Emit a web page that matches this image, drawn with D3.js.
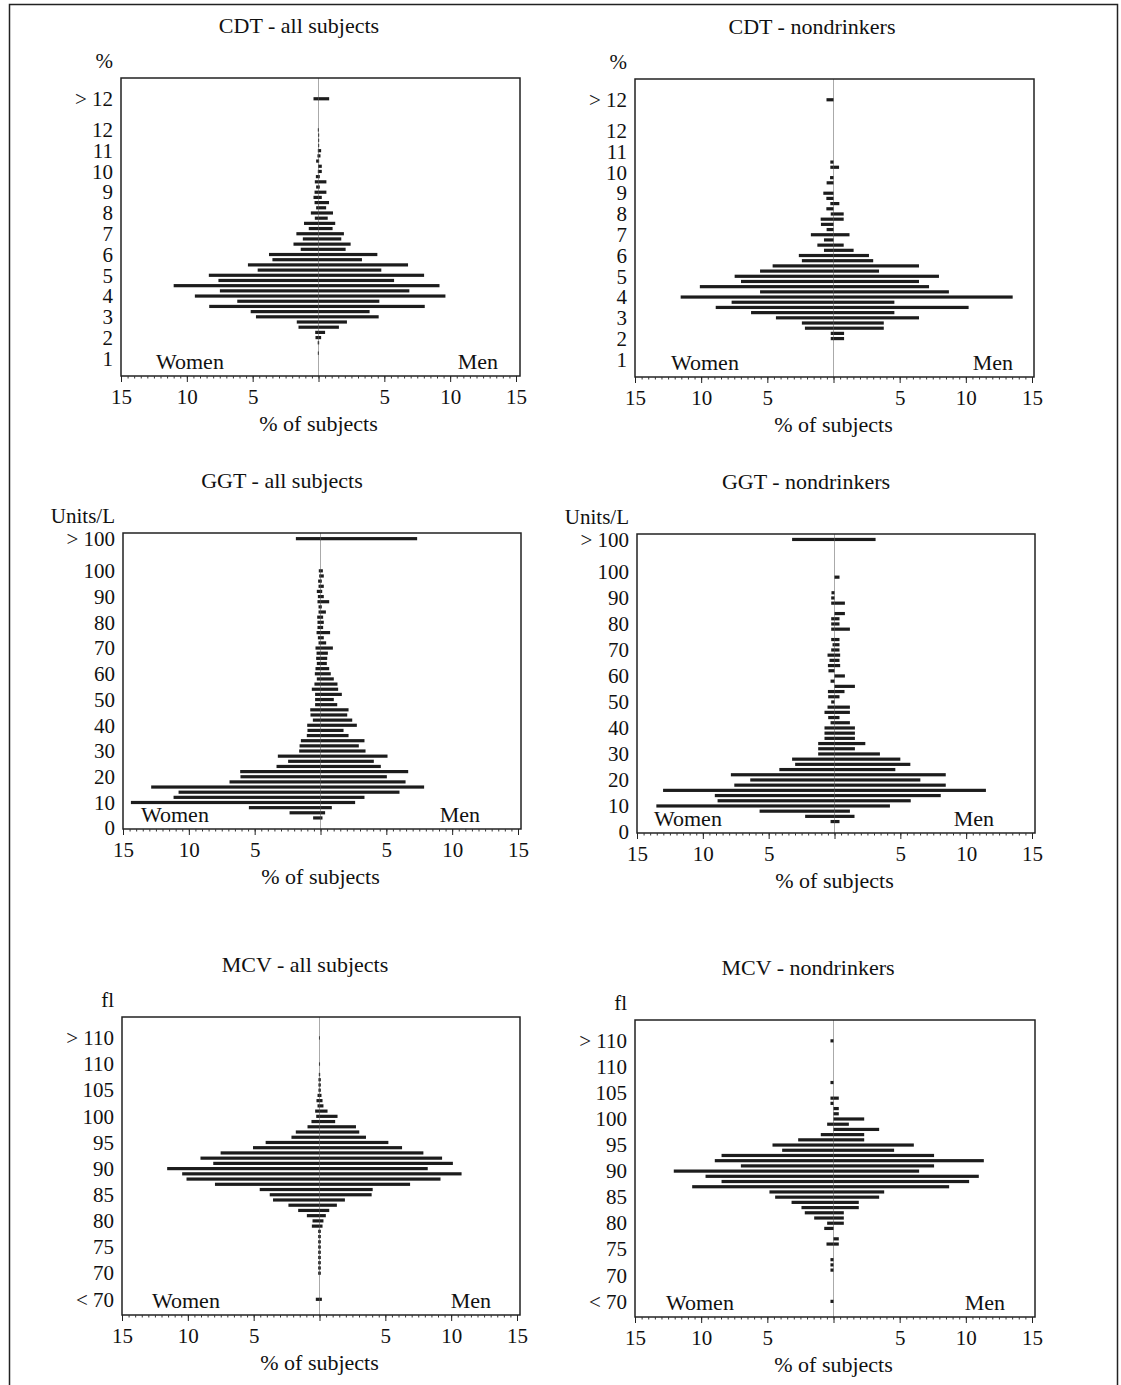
<!DOCTYPE html>
<html>
<head>
<meta charset="utf-8">
<script src="https://cdn.jsdelivr.net/npm/d3@7"></script>
<style>
  body { margin: 0; background: #fff; }
  svg text { font-family: "Liberation Serif", "Times New Roman", serif; fill: #111; }
</style>
</head>
<body>
<svg id="chart" width="1121" height="1385"></svg>
<script>
// ---- values (% of subjects per bin) ----

// CDT, %, bins of 0.25
const cdtLevels = [1.25, 1.5, 1.75, 2, 2.25, 2.5, 2.75, 3, 3.25, 3.5, 3.75, 4, 4.25, 4.5, 4.75, 5,
  5.25, 5.5, 5.75, 6, 6.25, 6.5, 6.75, 7, 7.25, 7.5, 7.75, 8, 8.25, 8.5, 8.75, 9, 9.25, 9.5, 9.75, 10,
  10.25, 10.5, 10.75, 11, 11.25, 11.5, 11.75, 12];
const cdtTicks = [1, 2, 3, 4, 5, 6, 7, 8, 9, 10, 11, 12];

const cdtAllWomen = [0.05, 0, 0.06, 0.23, 0.25, 1.52, 1.65, 4.75, 5.15, 8.3, 6.17, 9.39, 7.49, 11.0, 7.6, 8.33,
  4.62, 5.36, 3.5, 3.76, 1.35, 1.9, 1.19, 1.68, 0.74, 1.1, 0.28, 0.58, 0.18, 0.3, 0.38, 0.3, 0.18, 0.28, 0.2, 0.05,
  0.03, 0.18, 0.08, 0.05, 0.03, 0.03, 0.03, 0.05];
const cdtAllMen = [0.03, 0, 0.05, 0.2, 0.5, 1.55, 2.16, 4.57, 3.88, 8.07, 4.62, 9.64, 6.9, 9.19, 5.74, 8.02,
  4.77, 6.8, 3.3, 4.47, 2.06, 2.44, 1.73, 1.93, 1.07, 1.27, 0.7, 1.1, 0.58, 0.8, 0.25, 0.6, 0.1, 0.6, 0.1, 0.25,
  0.25, 0.05, 0.15, 0.2, 0.05, 0.05, 0.05, 0.03];
const cdtAllOver = [0.38, 0.81];   // > 12: women, men

const cdtNonWomen = [0, 0, 0, 0.21, 0.21, 2.16, 2.39, 4.35, 6.23, 8.9, 7.7, 11.55, 5.55, 10.1, 6.99, 7.47,
  5.55, 4.6, 2.39, 2.62, 0.72, 1.22, 0.72, 1.71, 0.52, 0.95, 0.97, 0.21, 0.54, 0.24, 0.54, 0.77, 0, 0.52, 0.26, 0,
  0.24, 0.24, 0, 0, 0, 0, 0, 0];
const cdtNonMen = [0, 0, 0, 0.8, 0.8, 3.8, 3.8, 6.46, 4.6, 10.21, 4.6, 13.54, 8.72, 7.22, 6.46, 7.97,
  3.44, 6.46, 3.0, 2.68, 1.52, 0.77, 0, 1.21, 0, 0, 0.77, 0.77, 0, 0.44, 0, 0, 0, 0, 0, 0,
  0.42, 0, 0, 0, 0, 0, 0, 0];
const cdtNonOver = [0.53, 0];

// GGT, Units/L, bins of 2
const ggtLevels = [4, 6, 8, 10, 12, 14, 16, 18, 20, 22, 24, 26, 28, 30, 32, 34, 36, 38, 40, 42, 44, 46, 48, 50,
  52, 54, 56, 58, 60, 62, 64, 66, 68, 70, 72, 74, 76, 78, 80, 82, 84, 86, 88, 90, 92, 94, 96, 98, 100];
const ggtTicks = [0, 10, 20, 30, 40, 50, 60, 70, 80, 90, 100];

const ggtAllWomen = [0.56, 2.35, 5.44, 14.4, 11.16, 10.78, 12.86, 6.91, 6.08, 6.1, 3.34, 2.46, 3.24, 1.62, 1.59,
  1.49, 1.04, 0.99, 1.01, 0.58, 0.76, 0.78, 0.41, 0.41, 0.41, 0.66, 0.46, 0.28, 0.43, 0.38, 0.28, 0.33, 0.3, 0.38,
  0.15, 0.2, 0.3, 0.23, 0.23, 0.25, 0.15, 0.15, 0.23, 0.2, 0.28, 0.15, 0.18, 0.1, 0.13];
const ggtAllMen = [0.15, 0.35, 0.86, 2.63, 3.34, 6.0, 7.87, 6.46, 5.04, 6.66, 4.58, 4.05, 5.09, 3.42, 2.91,
  3.34, 2.13, 1.75, 2.76, 2.41, 2.03, 2.13, 1.27, 1.01, 1.62, 1.34, 1.29, 1.01, 0.78, 0.66, 0.48, 0.51, 0.56, 0.94,
  0.43, 0.25, 0.73, 0.2, 0.25, 0.2, 0.41, 0.1, 0.66, 0.25, 0.13, 0.25, 0.1, 0.25, 0.18];
const ggtAllOver = [1.87, 7.34];   // > 100

const ggtNonWomen = [0.3, 2.23, 5.69, 13.53, 8.88, 9.09, 13.02, 7.61, 6.4, 7.87, 4.19, 2.99, 3.22, 1.24, 1.24,
  1.24, 0.76, 0.76, 0.76, 0.3, 0.48, 0.76, 0.53, 0.25, 0.48, 0.5, 0, 0.3, 0, 0.46, 0.5, 0.38, 0.53, 0.25,
  0.15, 0.25, 0, 0.25, 0.25, 0.25, 0, 0, 0.25, 0.25, 0.23, 0, 0, 0, 0];
const ggtNonMen = [0.38, 1.52, 1.17, 4.21, 5.79, 8.07, 11.5, 8.45, 6.52, 8.45, 4.62, 5.76, 5.0, 3.45, 1.55,
  2.34, 1.55, 1.55, 1.55, 1.17, 0.38, 1.17, 1.17, 0, 0.38, 0.76, 1.55, 0, 0.79, 0, 0.43, 0.38, 0.43, 0.38,
  0.38, 0.38, 0, 1.17, 0.38, 0.38, 0.79, 0, 0.79, 0, 0, 0, 0, 0.38, 0];
const ggtNonOver = [3.22, 3.12];

// MCV, fl, bins of 1
const mcvLevels = [70, 71, 72, 73, 74, 75, 76, 77, 78, 79, 80, 81, 82, 83, 84, 85, 86, 87, 88, 89, 90,
  91, 92, 93, 94, 95, 96, 97, 98, 99, 100, 101, 102, 103, 104, 105, 106, 107, 108, 109, 110];
const mcvTicks = [70, 75, 80, 85, 90, 95, 100, 105, 110];

const mcvAllWomen = [0.1, 0.1, 0.1, 0.1, 0.1, 0.1, 0.1, 0.1, 0.1, 0.58, 0.53, 0.96, 1.62, 2.36, 3.53, 3.78, 4.54,
  7.94, 10.1, 10.43, 11.57, 8.07, 9.04, 7.51, 5.05, 4.09, 2.13, 1.8, 0.91, 0.61, 0.25, 0.33, 0.15, 0.23, 0.15,
  0.08, 0.08, 0.08, 0.05, 0, 0.04];
const mcvAllMen = [0.1, 0.1, 0.1, 0.1, 0.1, 0.1, 0.1, 0.1, 0.1, 0.23, 0.3, 0.48, 0.74, 1.32, 1.93, 3.96, 4.04,
  6.88, 9.19, 10.79, 8.22, 10.13, 9.31, 7.89, 6.27, 5.23, 3.53, 3.02, 2.77, 1.19, 1.37, 0.61, 0.3, 0.23, 0.15,
  0.1, 0.1, 0.1, 0.05, 0, 0.04];
const mcvAllUnder = [0.28, 0.18];  // < 70
const mcvAllOver = [0.04, 0.03];   // > 110

const mcvNonWomen = [0, 0.23, 0.23, 0.23, 0, 0, 0.53, 0, 0, 0.7, 0.48, 1.46, 2.17, 2.42, 3.17, 4.41, 4.84,
  10.68, 8.46, 9.67, 12.07, 7.0, 8.97, 8.46, 3.88, 4.61, 2.67, 0.96, 0, 0.48, 0, 0, 0, 0.23, 0.23,
  0, 0, 0.23, 0, 0, 0];
const mcvNonMen = [0, 0, 0, 0, 0, 0, 0.4, 0.4, 0, 0, 0.78, 0.78, 0.78, 1.91, 1.91, 3.45, 3.83,
  8.74, 10.25, 10.98, 6.47, 7.6, 11.36, 7.6, 4.58, 6.07, 2.32, 2.32, 3.45, 1.16, 2.32, 0.4, 0.4, 0, 0.4,
  0, 0, 0, 0, 0, 0];
const mcvNonUnder = [0.23, 0];
const mcvNonOver = [0.23, 0];

// ---- panel layout ----
const panels = [
  { title: "CDT - all subjects", titleX: 299, unit: "%",
    box: { l: 121, r: 520, t: 78, b: 376 }, xRange: [121, 516], yDomain: [0.15, 14.5],
    levels: cdtLevels, women: cdtAllWomen, men: cdtAllMen, ticks: cdtTicks,
    extra: [{ pos: 13.5, label: "> 12", w: cdtAllOver[0], m: cdtAllOver[1] }],
    womenX: 156, menX: 498 },
  { title: "CDT - nondrinkers", titleX: 812, unit: "%",
    box: { l: 635, r: 1034, t: 79, b: 377 }, xRange: [635, 1032], yDomain: [0.15, 14.5],
    levels: cdtLevels, women: cdtNonWomen, men: cdtNonMen, ticks: cdtTicks,
    extra: [{ pos: 13.5, label: "> 12", w: cdtNonOver[0], m: cdtNonOver[1] }],
    womenX: 671, menX: 1013 },
  { title: "GGT - all subjects", titleX: 282, unit: "Units/L",
    box: { l: 123, r: 521, t: 533, b: 829 }, xRange: [123, 518], yDomain: [-0.3, 114.7],
    levels: ggtLevels, women: ggtAllWomen, men: ggtAllMen, ticks: ggtTicks,
    extra: [{ pos: 112.5, label: "> 100", w: ggtAllOver[0], m: ggtAllOver[1] }],
    womenX: 141, menX: 480 },
  { title: "GGT - nondrinkers", titleX: 806, unit: "Units/L",
    box: { l: 637, r: 1035, t: 534, b: 833 }, xRange: [637, 1032], yDomain: [-0.4, 114.6],
    levels: ggtLevels, women: ggtNonWomen, men: ggtNonMen, ticks: ggtTicks,
    extra: [{ pos: 112.5, label: "> 100", w: ggtNonOver[0], m: ggtNonOver[1] }],
    womenX: 654, menX: 994 },
  { title: "MCV - all subjects", titleX: 305, unit: "fl",
    box: { l: 122, r: 520, t: 1017, b: 1315 }, xRange: [122, 517], yDomain: [62, 119],
    levels: mcvLevels, women: mcvAllWomen, men: mcvAllMen, ticks: mcvTicks,
    extra: [{ pos: 115, label: "> 110", w: mcvAllOver[0], m: mcvAllOver[1] },
            { pos: 65, label: "< 70", w: mcvAllUnder[0], m: mcvAllUnder[1] }],
    womenX: 152, menX: 491 },
  { title: "MCV - nondrinkers", titleX: 808, unit: "fl",
    box: { l: 635, r: 1035, t: 1020, b: 1317 }, xRange: [635, 1032], yDomain: [62, 119],
    levels: mcvLevels, women: mcvNonWomen, men: mcvNonMen, ticks: mcvTicks,
    extra: [{ pos: 115, label: "> 110", w: mcvNonOver[0], m: mcvNonOver[1] },
            { pos: 65, label: "< 70", w: mcvNonUnder[0], m: mcvNonUnder[1] }],
    womenX: 666, menX: 1005 }
];

const svg = d3.select("#chart");
const tickFont = 21;
const labelFont = 22;
const ink = "#1c1c1c";

// outer frame of the figure
svg.append("path")
  .attr("d", "M9.5,1385V4.5H1117.5V1385")
  .attr("fill", "none")
  .attr("stroke", "#222")
  .attr("stroke-width", 1.5);

panels.forEach(drawPanel);

function drawPanel(p) {
  const g = svg.append("g");
  const box = p.box;

  const x = d3.scaleLinear().domain([-15, 15]).range(p.xRange);
  const y = d3.scaleLinear().domain(p.yDomain).range([box.b, box.t]);

  // centre line
  g.append("line")
    .attr("x1", x(0)).attr("x2", x(0))
    .attr("y1", box.t).attr("y2", box.b)
    .attr("stroke", "#aaa")
    .attr("stroke-width", 1);

  const rows = p.levels.map((v, i) => ({ pos: v, w: p.women[i], m: p.men[i] }))
    .concat(p.extra);
  const barH = 3.2;

  g.selectAll("rect.women")
    .data(rows.filter(d => d.w > 0))
    .join("rect")
    .attr("class", "women")
    .attr("x", d => x(-d.w))
    .attr("width", d => x(0) - x(-d.w))
    .attr("y", d => y(d.pos) - barH / 2)
    .attr("height", barH)
    .attr("fill", ink);

  g.selectAll("rect.men")
    .data(rows.filter(d => d.m > 0))
    .join("rect")
    .attr("class", "men")
    .attr("x", x(0))
    .attr("width", d => x(d.m) - x(0))
    .attr("y", d => y(d.pos) - barH / 2)
    .attr("height", barH)
    .attr("fill", ink);

  // plot frame
  g.append("rect")
    .attr("x", box.l).attr("y", box.t)
    .attr("width", box.r - box.l).attr("height", box.b - box.t)
    .attr("fill", "none")
    .attr("stroke", "#222")
    .attr("stroke-width", 1.5);

  // x axis: minor ticks every 0.5, major every 5, labels without sign
  g.append("g")
    .attr("transform", `translate(0,${box.b})`)
    .call(d3.axisBottom(x).tickValues(d3.range(-15, 15.01, 0.5)).tickSize(2.5).tickFormat(""))
    .call(a => a.select(".domain").remove())
    .attr("color", "#333");

  g.append("g")
    .attr("transform", `translate(0,${box.b})`)
    .call(d3.axisBottom(x)
      .tickValues([-15, -10, -5, 0, 5, 10, 15])
      .tickFormat(d => d === 0 ? "" : Math.abs(d))
      .tickSize(6)
      .tickPadding(7))
    .call(a => a.select(".domain").remove())
    .attr("color", "#222")
    .attr("font-size", tickFont)
    .attr("font-family", null);

  // y axis labels incl. the open-ended bins
  const extraLabel = new Map(p.extra.map(e => [e.pos, e.label]));
  g.append("g")
    .attr("transform", `translate(${box.l},0)`)
    .call(d3.axisLeft(y)
      .tickValues(p.ticks.concat(p.extra.map(e => e.pos)))
      .tickFormat(d => extraLabel.has(d) ? extraLabel.get(d) : d)
      .tickSize(0)
      .tickPadding(8))
    .call(a => a.select(".domain").remove())
    .attr("color", "#111")
    .attr("font-size", tickFont)
    .attr("font-family", null);

  // texts
  g.append("text")
    .attr("x", box.l - 8).attr("y", box.t - 10)
    .attr("text-anchor", "end")
    .attr("font-size", tickFont)
    .text(p.unit);

  g.append("text")
    .attr("x", p.titleX).attr("y", box.t - 45)
    .attr("text-anchor", "middle")
    .attr("font-size", labelFont)
    .text(p.title);

  g.append("text")
    .attr("x", x(0)).attr("y", box.b + 55)
    .attr("text-anchor", "middle")
    .attr("font-size", labelFont)
    .text("% of subjects");

  g.append("text")
    .attr("x", p.womenX).attr("y", box.b - 7)
    .attr("font-size", labelFont)
    .text("Women");

  g.append("text")
    .attr("x", p.menX).attr("y", box.b - 7)
    .attr("text-anchor", "end")
    .attr("font-size", labelFont)
    .text("Men");
}
</script>
</body>
</html>
